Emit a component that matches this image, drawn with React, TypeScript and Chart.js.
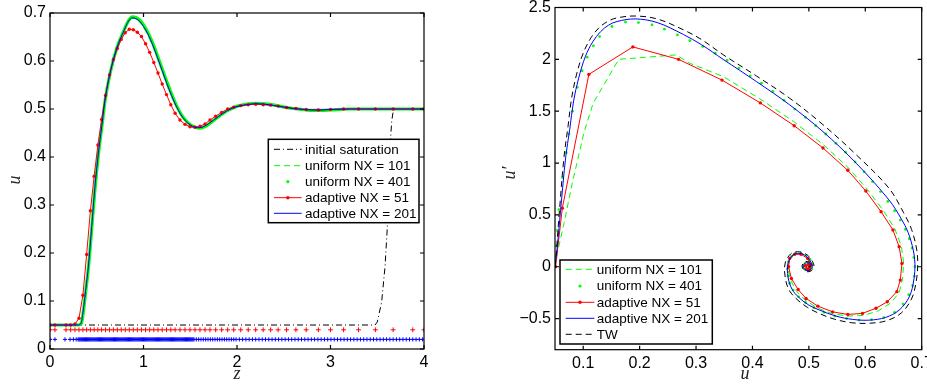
import React, { useEffect, useRef } from 'react';
import { Chart, registerables } from 'chart.js';

Chart.register(...registerables);

// ================= LEFT PANEL: u(z) =================
const Z_TICKS = [0, 1, 2, 3, 4];
const U_TICKS = [0, 0.1, 0.2, 0.3, 0.4, 0.5, 0.6, 0.7];

const INIT_SAT: number[][] = [
  [0, 0.05], [3.476, 0.05], [3.5, 0.056], [3.547, 0.098], [3.583, 0.171], [3.608, 0.255],
  [3.622, 0.345], [3.636, 0.42], [3.655, 0.475], [3.672, 0.497], [3.7, 0.5], [4, 0.5],
];

const U101_Z: number[][] = [
  [0, 0.05], [0.3, 0.05], [0.33, 0.054], [0.356, 0.085], [0.383, 0.13], [0.41, 0.178], [0.446, 0.262],
  [0.481, 0.343], [0.517, 0.41], [0.553, 0.465], [0.588, 0.518], [0.642, 0.574], [0.713, 0.627],
  [0.784, 0.662], [0.84, 0.684], [0.88, 0.689], [0.92, 0.687], [0.963, 0.68], [1.0, 0.67],
  [1.05, 0.652], [1.1, 0.63], [1.15, 0.604], [1.2, 0.577], [1.25, 0.55], [1.3, 0.526], [1.35, 0.504],
  [1.4, 0.487], [1.45, 0.474], [1.5, 0.466], [1.55, 0.462], [1.6, 0.462], [1.65, 0.465], [1.7, 0.471],
  [1.8, 0.485], [1.9, 0.497], [2.0, 0.505], [2.1, 0.509], [2.2, 0.51], [2.3, 0.509], [2.4, 0.507],
  [2.5, 0.504], [2.6, 0.501], [2.7, 0.499], [2.8, 0.498], [2.9, 0.498], [3.0, 0.499], [3.2, 0.5], [4, 0.5],
];

const U401_Z: number[][] = [
  [0, 0.05], [0.3, 0.05], [0.335, 0.053], [0.36, 0.083], [0.387, 0.128], [0.413, 0.173], [0.449, 0.257],
  [0.484, 0.34], [0.52, 0.409], [0.556, 0.465], [0.591, 0.52], [0.645, 0.576], [0.716, 0.628],
  [0.787, 0.662], [0.843, 0.685], [0.883, 0.692], [0.923, 0.69], [0.966, 0.684], [1.003, 0.674],
  [1.053, 0.657], [1.103, 0.635], [1.153, 0.609], [1.203, 0.582], [1.253, 0.555], [1.303, 0.53],
  [1.353, 0.507], [1.403, 0.489], [1.453, 0.476], [1.503, 0.467], [1.553, 0.462], [1.603, 0.46],
  [1.653, 0.463], [1.703, 0.469], [1.803, 0.484], [1.903, 0.497], [2.003, 0.506], [2.103, 0.51],
  [2.203, 0.512], [2.303, 0.511], [2.403, 0.508], [2.503, 0.504], [2.603, 0.501], [2.703, 0.499],
  [2.803, 0.497], [2.903, 0.497], [3.003, 0.498], [3.2, 0.5], [4, 0.5],
];

// adaptive NX = 51: solution at mesh nodes
const A51_Z: number[][] = [
  [0, 0.05], [0.053, 0.05], [0.171, 0.05], [0.221, 0.05], [0.267, 0.052], [0.31, 0.064], [0.352, 0.112],
  [0.392, 0.197], [0.432, 0.288], [0.472, 0.36], [0.512, 0.425], [0.552, 0.478], [0.594, 0.528],
  [0.636, 0.571], [0.678, 0.603], [0.72, 0.626], [0.762, 0.645], [0.805, 0.659], [0.848, 0.666],
  [0.891, 0.665], [0.934, 0.66], [0.978, 0.651], [1.022, 0.636], [1.066, 0.618], [1.11, 0.597],
  [1.155, 0.575], [1.2, 0.552], [1.246, 0.53], [1.292, 0.509], [1.338, 0.491], [1.39, 0.477],
  [1.444, 0.468], [1.497, 0.463], [1.551, 0.462], [1.604, 0.464], [1.658, 0.469], [1.711, 0.477],
  [1.772, 0.485], [1.836, 0.493], [1.9, 0.5], [1.965, 0.504], [2.04, 0.507], [2.12, 0.509],
  [2.2, 0.51], [2.28, 0.509], [2.36, 0.508], [2.44, 0.506], [2.53, 0.503], [2.63, 0.501],
  [2.74, 0.499], [2.87, 0.498], [3.0, 0.499], [3.14, 0.5], [3.3, 0.5], [3.48, 0.5], [3.67, 0.5],
  [3.88, 0.5], [4.0, 0.5],
];

const A201_Z: number[][] = [
  [0, 0.05], [0.3, 0.05], [0.33, 0.053], [0.356, 0.081], [0.383, 0.125], [0.41, 0.171], [0.446, 0.255],
  [0.481, 0.338], [0.517, 0.407], [0.553, 0.463], [0.588, 0.518], [0.642, 0.574], [0.713, 0.626],
  [0.784, 0.66], [0.84, 0.683], [0.88, 0.69], [0.92, 0.688], [0.963, 0.682], [1.0, 0.672],
  [1.05, 0.655], [1.1, 0.633], [1.15, 0.607], [1.2, 0.58], [1.25, 0.553], [1.3, 0.528], [1.35, 0.506],
  [1.4, 0.488], [1.45, 0.475], [1.5, 0.467], [1.55, 0.462], [1.6, 0.461], [1.65, 0.464], [1.7, 0.47],
  [1.8, 0.484], [1.9, 0.497], [2.0, 0.505], [2.1, 0.509], [2.2, 0.511], [2.3, 0.51], [2.4, 0.507],
  [2.5, 0.504], [2.6, 0.501], [2.7, 0.499], [2.8, 0.498], [2.9, 0.498], [3.0, 0.499], [3.2, 0.5],
  [3.5, 0.5], [4, 0.5],
];

// adaptive NX = 201 mesh node positions
const MESH201: number[] = [
  0, 0.053, 0.16, 0.214, 0.25, 0.28,
  0.30, 0.31, 0.32, 0.33, 0.34, 0.35, 0.36, 0.37, 0.38, 0.39, 0.40, 0.41, 0.42, 0.43, 0.44, 0.45,
  0.46, 0.47, 0.48, 0.49, 0.50, 0.51, 0.52, 0.53, 0.54, 0.55, 0.56, 0.57, 0.58, 0.59, 0.60, 0.61,
  0.62, 0.63, 0.64, 0.65, 0.66, 0.67, 0.68, 0.69, 0.70, 0.71, 0.72, 0.73, 0.74, 0.75, 0.76, 0.77,
  0.78, 0.79, 0.80, 0.81, 0.82, 0.83, 0.84, 0.85, 0.86, 0.87, 0.88, 0.89, 0.90, 0.91, 0.92, 0.93,
  0.94, 0.95, 0.96, 0.97, 0.98, 0.99, 1.00, 1.01, 1.02, 1.03, 1.04, 1.05, 1.06, 1.07, 1.08, 1.09,
  1.10, 1.11, 1.12, 1.13, 1.14, 1.15, 1.16, 1.17, 1.18, 1.19, 1.20, 1.21, 1.22, 1.23, 1.24, 1.25,
  1.26, 1.27, 1.28, 1.29, 1.30, 1.31, 1.32, 1.33, 1.34, 1.35, 1.36, 1.37, 1.38, 1.39, 1.40, 1.41,
  1.42, 1.43, 1.44, 1.45, 1.46, 1.47, 1.48, 1.49, 1.50, 1.51, 1.52, 1.53, 1.54,
  1.565, 1.59, 1.615, 1.64, 1.665, 1.69, 1.715, 1.74, 1.765, 1.79, 1.815, 1.84, 1.865, 1.89, 1.915,
  1.94, 1.965, 1.99,
  2.025, 2.06, 2.095, 2.13, 2.165, 2.2, 2.235, 2.27, 2.305, 2.34, 2.375, 2.41, 2.445, 2.48, 2.515,
  2.55, 2.585, 2.62, 2.655, 2.69, 2.725, 2.76, 2.795, 2.83, 2.865, 2.9, 2.935, 2.97, 3.005, 3.04,
  3.075, 3.11, 3.145, 3.18, 3.215, 3.25, 3.285, 3.32, 3.355, 3.39, 3.425, 3.46, 3.495, 3.53, 3.565,
  3.6, 3.635, 3.67, 3.705, 3.74, 3.775, 3.81, 3.845, 3.88, 3.915, 3.95, 3.985,
];
const MESH51_LEVEL = 0.04;
const MESH201_LEVEL = 0.02;

// ================= RIGHT PANEL: phase plane (u, u') =================
const PU_TICKS = [0.1, 0.2, 0.3, 0.4, 0.5, 0.6, 0.7];
const PD_TICKS = [-0.5, 0, 0.5, 1, 1.5, 2, 2.5];

const PH_U101: number[][] = [
  [0.05, 0], [0.054, 0.13], [0.066, 0.42], [0.0806, 0.805], [0.101, 1.288], [0.1176, 1.577],
  [0.163, 2.0], [0.2646, 2.043], [0.289, 1.962], [0.348, 1.834], [0.413, 1.62], [0.473, 1.4],
  [0.525, 1.18], [0.569, 0.96], [0.603, 0.75], [0.631, 0.55], [0.652, 0.37], [0.664, 0.2],
  [0.668, 0.035], [0.666, -0.12], [0.66, -0.25], [0.645, -0.35], [0.623, -0.425], [0.597, -0.47],
  [0.568, -0.476], [0.54, -0.45], [0.514, -0.395], [0.493, -0.32], [0.477, -0.23], [0.467, -0.12],
  [0.462, 0], [0.465, 0.085], [0.474, 0.13], [0.486, 0.13], [0.498, 0.09], [0.505, 0.016],
  [0.502, -0.033], [0.495, -0.035], [0.49, 0], [0.493, 0.035], [0.5, 0.035], [0.502, 0.005], [0.5, 0],
];

const PH_U401: number[][] = [
  [0.05, 0], [0.051, 0.08], [0.052, 0.2], [0.054, 0.35], [0.057, 0.55], [0.0635, 0.86], [0.07, 1.1],
  [0.0747, 1.28], [0.081, 1.5], [0.0894, 1.73], [0.098, 1.89], [0.107, 2.021], [0.118, 2.13],
  [0.129, 2.22], [0.151, 2.317], [0.175, 2.359], [0.198, 2.355], [0.222, 2.333], [0.244, 2.291],
  [0.267, 2.236], [0.289, 2.18], [0.312, 2.125], [0.334, 2.06], [0.355, 1.99], [0.376, 1.915],
  [0.396, 1.84], [0.416, 1.77], [0.436, 1.69], [0.456, 1.605], [0.475, 1.52], [0.494, 1.44],
  [0.512, 1.36], [0.53, 1.28], [0.548, 1.19], [0.565, 1.105], [0.582, 1.01], [0.598, 0.915],
  [0.613, 0.82], [0.627, 0.725], [0.64, 0.63], [0.652, 0.54], [0.662, 0.45], [0.671, 0.36],
  [0.678, 0.27], [0.683, 0.18], [0.686, 0.09], [0.688, 0], [0.687, -0.09], [0.684, -0.18],
  [0.677, -0.27], [0.667, -0.36], [0.652, -0.44], [0.633, -0.49], [0.611, -0.51], [0.589, -0.515],
  [0.567, -0.5], [0.546, -0.475], [0.527, -0.44], [0.509, -0.395], [0.494, -0.345], [0.482, -0.29],
  [0.472, -0.225], [0.466, -0.16], [0.463, -0.09], [0.462, -0.02], [0.464, 0.05], [0.469, 0.1],
  [0.477, 0.128], [0.486, 0.13], [0.495, 0.11], [0.502, 0.07], [0.506, 0.025], [0.505, -0.015],
  [0.5, -0.035], [0.494, -0.03], [0.49, 0], [0.493, 0.03], [0.499, 0.035], [0.503, 0.01], [0.5, 0],
];

const PH_A51: number[][] = [
  [0.051, 0], [0.063, 0.565], [0.11, 1.855], [0.188, 2.12], [0.269, 2.0], [0.346, 1.8], [0.414, 1.58],
  [0.474, 1.36], [0.525, 1.145], [0.569, 0.93], [0.601, 0.73], [0.628, 0.53], [0.649, 0.355],
  [0.66, 0.194], [0.665, 0.032], [0.662, -0.129], [0.656, -0.24], [0.639, -0.338], [0.619, -0.4],
  [0.595, -0.45], [0.569, -0.46], [0.542, -0.435], [0.516, -0.38], [0.495, -0.306], [0.481, -0.22],
  [0.469, -0.113], [0.464, 0], [0.466, 0.08], [0.475, 0.12], [0.486, 0.12], [0.498, 0.08],
  [0.504, 0.016], [0.501, -0.026], [0.496, -0.02], [0.494, 0.01], [0.499, 0.02], [0.501, 0],
];

const PH_A201: number[][] = [
  [0.05, 0], [0.054, 0.19], [0.06, 0.55], [0.069, 1.06], [0.076, 1.32], [0.083, 1.6], [0.092, 1.82],
  [0.104, 2.03], [0.117, 2.17], [0.131, 2.268], [0.145, 2.33], [0.16, 2.365], [0.192, 2.39],
  [0.231, 2.355], [0.2775, 2.24], [0.31, 2.14], [0.348, 2.0], [0.407, 1.786], [0.466, 1.561],
  [0.525, 1.303], [0.584, 0.998], [0.642, 0.644], [0.664, 0.46], [0.676, 0.33], [0.685, 0.161],
  [0.688, 0.033], [0.686, -0.128], [0.678, -0.29], [0.66, -0.418], [0.636, -0.489], [0.607, -0.515],
  [0.578, -0.508], [0.548, -0.476], [0.519, -0.418], [0.5, -0.37], [0.483, -0.3], [0.47, -0.215],
  [0.463, -0.097], [0.463, 0.033], [0.472, 0.113], [0.48, 0.129], [0.492, 0.115], [0.502, 0.06],
  [0.506, 0], [0.502, -0.03], [0.495, -0.035], [0.49, 0], [0.493, 0.035], [0.5, 0.035], [0.503, 0.005],
  [0.5, 0],
];

const PH_TW: number[][] = [
  [0.05, 0], [0.053, 0.19], [0.058, 0.55], [0.066, 1.06], [0.073, 1.35], [0.079, 1.61], [0.088, 1.85],
  [0.1, 2.06], [0.114, 2.21], [0.129, 2.31], [0.145, 2.37], [0.16, 2.4], [0.192, 2.418], [0.231, 2.39],
  [0.2775, 2.285], [0.31, 2.19], [0.348, 2.045], [0.407, 1.84], [0.466, 1.625], [0.525, 1.37],
  [0.584, 1.08], [0.642, 0.757], [0.668, 0.52], [0.682, 0.36], [0.691, 0.17], [0.693, 0.02],
  [0.69, -0.15], [0.682, -0.31], [0.664, -0.445], [0.638, -0.52], [0.607, -0.545], [0.576, -0.54],
  [0.545, -0.505], [0.516, -0.445], [0.497, -0.39], [0.479, -0.315], [0.465, -0.225], [0.458, -0.1],
  [0.458, 0.035], [0.468, 0.125], [0.48, 0.145], [0.494, 0.125], [0.505, 0.065], [0.509, 0],
  [0.504, -0.04], [0.495, -0.045], [0.488, 0], [0.492, 0.045], [0.501, 0.045], [0.505, 0.005], [0.5, 0],
];

// ================= helpers =================
const GREEN = '#00ff00';
const RED = '#ff0000';
const BLUE = '#0000ff';
const BLACK = '#000000';
const TICK_FONT = { family: "'Liberation Sans', Arial, sans-serif", size: 16 };
const LEGEND_FONT = "13.5px 'Liberation Sans', Arial, sans-serif";
const TITLE_FONT = "italic 18px 'Liberation Serif', 'Times New Roman', serif";

const pts = (arr: number[][]) => arr.map(([x, y]) => ({ x, y }));
const fmt = (v: number) => String(Math.round(v * 100) / 100).replace('-', '\u2212');

type LegendItem = { label: string; color: string; line: boolean; dash?: number[]; dot?: number };
type OverlayCfg = {
  xTicks: number[];
  yTicks: number[];
  legend: {
    x0: number; y0: number; x1: number; y1: number;
    lineX0: number; lineX1: number; textX: number; rows: number[]; items: LegendItem[];
  };
  titles: { text: string; x: number; y: number; rot: boolean }[];
};

function overlayPlugin(cfg: OverlayCfg) {
  return {
    id: 'matlabOverlay',
    afterDraw(chart: any) {
      const ctx: CanvasRenderingContext2D = chart.ctx;
      const a = chart.chartArea;
      const xs = chart.scales.x;
      const ys = chart.scales.y;
      ctx.save();
      ctx.strokeStyle = BLACK;
      ctx.lineWidth = 1.2;
      ctx.setLineDash([]);
      ctx.strokeRect(a.left, a.top, a.right - a.left, a.bottom - a.top);
      const TL = 4;
      ctx.beginPath();
      cfg.xTicks.forEach((v) => {
        const px = xs.getPixelForValue(v);
        ctx.moveTo(px, a.bottom); ctx.lineTo(px, a.bottom - TL);
        ctx.moveTo(px, a.top); ctx.lineTo(px, a.top + TL);
      });
      cfg.yTicks.forEach((v) => {
        const py = ys.getPixelForValue(v);
        ctx.moveTo(a.left, py); ctx.lineTo(a.left + TL, py);
        ctx.moveTo(a.right, py); ctx.lineTo(a.right - TL, py);
      });
      ctx.stroke();

      // legend
      const lg = cfg.legend;
      ctx.fillStyle = '#ffffff';
      ctx.fillRect(lg.x0, lg.y0, lg.x1 - lg.x0, lg.y1 - lg.y0);
      ctx.strokeStyle = BLACK;
      ctx.lineWidth = 1.5;
      ctx.strokeRect(lg.x0, lg.y0, lg.x1 - lg.x0, lg.y1 - lg.y0);
      lg.items.forEach((it, i) => {
        const y = lg.rows[i];
        if (it.line) {
          ctx.beginPath();
          ctx.setLineDash(it.dash || []);
          ctx.strokeStyle = it.color;
          ctx.lineWidth = 1;
          ctx.moveTo(lg.lineX0, y);
          ctx.lineTo(lg.lineX1, y);
          ctx.stroke();
          ctx.setLineDash([]);
        }
        if (it.dot) {
          ctx.beginPath();
          ctx.fillStyle = it.color;
          ctx.arc((lg.lineX0 + lg.lineX1) / 2, y, it.dot, 0, Math.PI * 2);
          ctx.fill();
        }
        ctx.fillStyle = BLACK;
        ctx.font = LEGEND_FONT;
        ctx.textAlign = 'left';
        ctx.textBaseline = 'middle';
        ctx.fillText(it.label, lg.textX, y + 0.5);
      });

      // axis titles
      ctx.fillStyle = '#222';
      ctx.font = TITLE_FONT;
      ctx.textAlign = 'center';
      ctx.textBaseline = 'middle';
      cfg.titles.forEach((t) => {
        ctx.save();
        ctx.translate(t.x, t.y);
        if (t.rot) ctx.rotate(-Math.PI / 2);
        ctx.fillText(t.text, 0, 0);
        ctx.restore();
      });
      ctx.restore();
    },
  };
}

function scaleOpts(min: number, max: number, ticks: number[], size: number, axis: 'x' | 'y', pad: number) {
  return {
    type: 'linear',
    min,
    max,
    grid: { display: false, drawTicks: false },
    border: { display: false },
    ticks: {
      color: BLACK,
      font: TICK_FONT,
      padding: pad,
      autoSkip: false,
      maxRotation: 0,
      minRotation: 0,
      callback: (v: any) => fmt(Number(v)),
    },
    afterBuildTicks: (s: any) => {
      s.ticks = ticks.map((v) => ({ value: v }));
    },
    afterFit: (s: any) => {
      if (axis === 'x') {
        s.height = size;
        s.paddingLeft = 0;
        s.paddingRight = 0;
      } else {
        s.width = size;
        s.paddingTop = 0;
        s.paddingBottom = 0;
      }
    },
  };
}

function leftConfig(): any {
  const line = (data: number[][], color: string, extra: any) => ({
    data: pts(data),
    showLine: true,
    borderColor: color,
    backgroundColor: color,
    borderWidth: 1,
    pointRadius: 0,
    fill: false,
    ...extra,
  });
  return {
    type: 'scatter',
    data: {
      datasets: [
        line(INIT_SAT, BLACK, { borderDash: [6, 3, 1, 3], order: 6 }),
        line(U101_Z, GREEN, { borderDash: [6, 4], cubicInterpolationMode: 'monotone', order: 4 }),
        line(U401_Z, GREEN, { borderWidth: 3.2, cubicInterpolationMode: 'monotone', order: 3 }),
        line(A51_Z, RED, {
          pointRadius: 1.7, pointBorderWidth: 0, pointBackgroundColor: RED, order: 1,
        }),
        line(A201_Z, BLUE, { cubicInterpolationMode: 'monotone', order: 0 }),
        {
          data: A51_Z.map(([z]) => ({ x: z, y: MESH51_LEVEL })),
          showLine: false, pointStyle: 'cross', pointRadius: 2.4, borderColor: RED, pointBorderWidth: 1,
          borderWidth: 1, order: 2,
        },
        {
          data: MESH201.map((z) => ({ x: z, y: MESH201_LEVEL })),
          showLine: false, pointStyle: 'cross', pointRadius: 2.1, borderColor: BLUE, pointBorderWidth: 1,
          borderWidth: 1, order: 2,
        },
      ],
    },
    options: {
      responsive: false,
      animation: false,
      devicePixelRatio: 1,
      events: [],
      layout: { padding: { left: 0, right: 46, top: 13, bottom: 0 } },
      plugins: { legend: { display: false }, tooltip: { enabled: false } },
      scales: {
        x: scaleOpts(0, 4, Z_TICKS, 36, 'x', 4),
        y: scaleOpts(0, 0.7, U_TICKS, 50, 'y', 4),
      },
    },
    plugins: [
      overlayPlugin({
        xTicks: Z_TICKS,
        yTicks: U_TICKS,
        legend: {
          x0: 268.3, y0: 139.3, x1: 419, y1: 222.7,
          lineX0: 274, lineX1: 301.7, textX: 305,
          rows: [149.3, 165.7, 181.7, 197.7, 213.3],
          items: [
            { label: 'initial saturation', color: BLACK, line: true, dash: [6, 3, 1, 3] },
            { label: 'uniform NX = 101', color: GREEN, line: true, dash: [6, 4] },
            { label: 'uniform NX = 401', color: GREEN, line: false, dot: 1.6 },
            { label: 'adaptive NX = 51', color: RED, line: true, dot: 1.7 },
            { label: 'adaptive NX = 201', color: BLUE, line: true },
          ],
        },
        titles: [
          { text: 'u', x: 15, y: 180, rot: true },
          { text: 'z', x: 237, y: 374, rot: false },
        ],
      }),
    ],
  };
}

function rightConfig(): any {
  const line = (data: number[][], color: string, extra: any) => ({
    data: pts(data),
    showLine: true,
    borderColor: color,
    backgroundColor: color,
    borderWidth: 1,
    pointRadius: 0,
    fill: false,
    ...extra,
  });
  return {
    type: 'scatter',
    data: {
      datasets: [
        line(PH_U101, GREEN, { borderDash: [6, 4], order: 4 }),
        {
          data: pts(PH_U401), showLine: false, pointRadius: 1.4, pointBorderWidth: 0,
          pointBackgroundColor: GREEN, backgroundColor: GREEN, borderColor: GREEN, order: 3,
        },
        line(PH_A51, RED, { pointRadius: 1.7, pointBorderWidth: 0, pointBackgroundColor: RED, order: 2 }),
        line(PH_A201, BLUE, { tension: 0.35, order: 1 }),
        line(PH_TW, BLACK, { borderDash: [6, 4], tension: 0.35, order: 0 }),
      ],
    },
    options: {
      responsive: false,
      animation: false,
      devicePixelRatio: 1,
      events: [],
      layout: { padding: { left: 30, right: 38.3, top: 7.5, bottom: 0 } },
      plugins: { legend: { display: false }, tooltip: { enabled: false } },
      scales: {
        x: scaleOpts(0.05, 0.7, PU_TICKS, 35.3, 'x', 4),
        y: scaleOpts(-0.8, 2.5, PD_TICKS, 55, 'y', 4),
      },
    },
    plugins: [
      overlayPlugin({
        xTicks: PU_TICKS,
        yTicks: PD_TICKS,
        legend: {
          x0: 90, y0: 260, x1: 242.3, y1: 344,
          lineX0: 95.7, lineX1: 124.3, textX: 126.7,
          rows: [269.3, 286, 302.3, 318.3, 334.3],
          items: [
            { label: 'uniform NX = 101', color: GREEN, line: true, dash: [6, 4] },
            { label: 'uniform NX = 401', color: GREEN, line: false, dot: 1.6 },
            { label: 'adaptive NX = 51', color: RED, line: true, dot: 1.7 },
            { label: 'adaptive NX = 201', color: BLUE, line: true },
            { label: 'TW', color: BLACK, line: true, dash: [6, 4] },
          ],
        },
        titles: [
          { text: 'u\u2032', x: 40, y: 173, rot: true },
          { text: 'u', x: 275, y: 374, rot: false },
        ],
      }),
    ],
  };
}

export default function App() {
  const leftRef = useRef<HTMLCanvasElement>(null);
  const rightRef = useRef<HTMLCanvasElement>(null);
  useEffect(() => {
    const c1 = new Chart(leftRef.current as HTMLCanvasElement, leftConfig());
    const c2 = new Chart(rightRef.current as HTMLCanvasElement, rightConfig());
    return () => {
      c1.destroy();
      c2.destroy();
    };
  }, []);
  return (
    <div
      style={{
        position: 'fixed', left: 0, top: 0, width: 927, height: 385,
        overflow: 'hidden', background: '#ffffff',
      }}
    >
      <canvas
        ref={leftRef}
        width={470}
        height={385}
        style={{ position: 'absolute', left: 0, top: 0, width: 470, height: 385 }}
      />
      <canvas
        ref={rightRef}
        width={490}
        height={385}
        style={{ position: 'absolute', left: 470, top: 0, width: 490, height: 385 }}
      />
    </div>
  );
}
